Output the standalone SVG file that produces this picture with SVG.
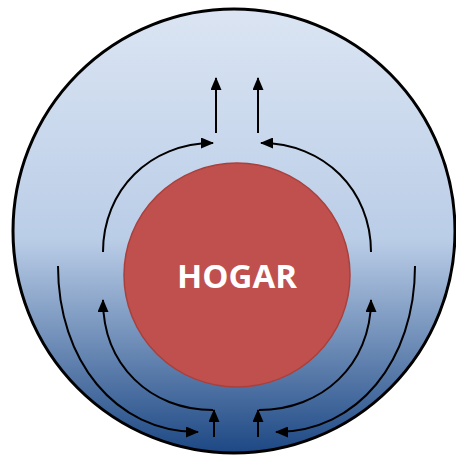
<svg xmlns="http://www.w3.org/2000/svg" width="456" height="455" viewBox="0 0 456 455">
<defs>
<linearGradient id="bg" x1="0" y1="0" x2="0" y2="1">
<stop offset="0" stop-color="#dbe5f3"/>
<stop offset="0.52" stop-color="#bacde7"/>
<stop offset="1" stop-color="#1d4884"/>
</linearGradient>
<marker id="ah" markerUnits="userSpaceOnUse" markerWidth="13" markerHeight="11" refX="12" refY="5.5" orient="auto">
<path d="M0,0 L13,5.5 L0,11 Z" fill="#000"/>
</marker>
<style>
.c{fill:none;stroke:#000;stroke-width:2}
</style>
</defs>
<g id="outer"><ellipse cx="234" cy="231" rx="221" ry="222" fill="url(#bg)" stroke="#000" stroke-width="3"/></g>
<g id="hogar">
<ellipse cx="237" cy="275" rx="113" ry="112" fill="#c0504d" stroke="#a8413e" stroke-width="1.5"/>
<text x="237" y="288" font-family="'Open Sans','Liberation Sans',sans-serif" font-weight="bold" font-size="33" fill="#fff" text-anchor="middle">HOGAR</text>
</g>
<g id="connectors">
<path class="c" marker-end="url(#ah)" d="M216,133 L216,78"/>
<path class="c" marker-end="url(#ah)" d="M258,133 L258,78"/>
<path class="c" marker-end="url(#ah)" d="M103,252 C103,190 150,143 213,143"/>
<path class="c" marker-end="url(#ah)" d="M371,252 C371,190 324,143 261,143"/>
<path class="c" marker-end="url(#ah)" d="M213,410 C150,410 103,365 103,300"/>
<path class="c" marker-end="url(#ah)" d="M259,410 C322,410 371,365 371,300"/>
<path class="c" marker-end="url(#ah)" d="M214,437 L214,410"/>
<path class="c" marker-end="url(#ah)" d="M258,437 L258,410"/>
<path class="c" marker-end="url(#ah)" d="M58,266 C58,360 115,432 198,432"/>
<path class="c" marker-end="url(#ah)" d="M415,266 C415,360 358,432 276,432"/>
</g>
</svg>
